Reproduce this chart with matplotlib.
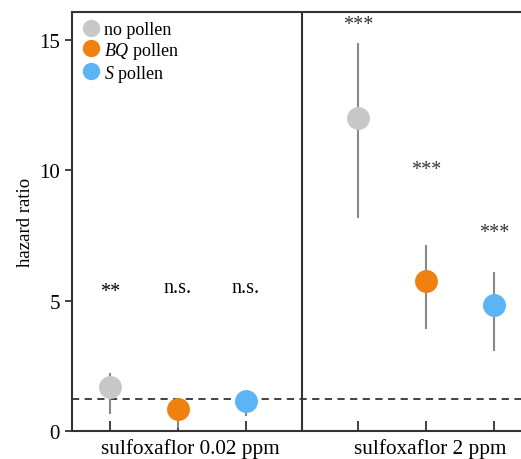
import matplotlib.pyplot as plt

plt.rcParams['font.family'] = ['Liberation Serif', 'DejaVu Serif']
plt.rcParams['mathtext.fontset'] = 'custom'
plt.rcParams['mathtext.rm'] = 'Liberation Serif'
plt.rcParams['mathtext.it'] = 'Liberation Serif:italic'

# hazard ratio estimates with CI, per group (no / BQ / S pollen)
groups = ["no pollen", r"$\it{BQ}$ pollen", r"$\it{S}$ pollen"]
colors = ["#c8c8c8", "#f08010", "#5ab4f5"]
low_hr = [1.68, 0.86, 1.14]
low_lo = [0.70, 0.15, 0.60]
low_hi = [2.20, 1.15, 1.30]
high_hr = [12.0, 5.75, 4.82]
high_lo = [8.2, 3.95, 3.1]
high_hi = [14.85, 7.08, 6.05]
low_sig = ["**", "n.s.", "n.s."]
low_sig_y = [5.35, 5.5, 5.5]
high_sig = ["***", "***", "***"]
high_sig_y = [15.6, 10.05, 7.6]
x_low = [1, 2, 3]
x_high = [4.65, 5.65, 6.65]
treatments = ["sulfoxaflor 0.02 ppm", "sulfoxaflor 2 ppm"]
ref_line = 1.22

fig = plt.figure(figsize=(5.21, 4.6), dpi=100)
ax = fig.add_axes([0.138, 0.061, 0.862, 0.911])

for i in range(3):
    for x, hr, lo, hi in [(x_low[i], low_hr[i], low_lo[i], low_hi[i]),
                          (x_high[i], high_hr[i], high_lo[i], high_hi[i])]:
        ax.plot([x, x], [lo, hi], color="#8a8a8a", lw=1.5, zorder=2)
        ax.plot(x, hr, "o", color=colors[i], ms=16.5, mec="none", zorder=3)
    ax.text(x_low[i], low_sig_y[i], low_sig[i], ha="center", va="center", fontsize=14.5)
    ax.text(x_high[i], high_sig_y[i], high_sig[i], ha="center", va="center",
            fontsize=14.5, color="#333333")

for i in range(3):
    ax.plot([], [], "o", color=colors[i], ms=12.5, mec="none", label=groups[i])
ax.legend(loc="upper left", frameon=False, fontsize=13, handletextpad=0.2,
          borderaxespad=0.2, labelspacing=0.1, handlelength=1.1,
          borderpad=0.3)

ax.axhline(ref_line, color="#333333", ls=(0, (4, 3)), lw=1.3, zorder=1)
ax.axvline((x_low[2] + x_high[0]) / 2, color="#333333", lw=1.5)

ax.set_xlim(0.44, 7.05)
ax.set_ylim(0, 16.08)
ax.set_yticks([0, 5, 10, 15])
ax.set_xticks(x_low + x_high)
ax.set_xticklabels([])
ax.tick_params(axis="both", colors="#333333", labelcolor="black", labelsize=15,
               width=1.3, length=5)
ax.tick_params(axis="x", direction="in", length=7)
for s in ax.spines.values():
    s.set_color("#333333")
    s.set_linewidth(1.5)
ax.spines["right"].set_visible(False)
ax.set_ylabel("hazard ratio", fontsize=13.5)

tr = ax.get_xaxis_transform()
ax.text(x_low[1] + 0.18, -0.052, treatments[0], ha="center", va="baseline",
        fontsize=15.3, transform=tr)
ax.text(x_high[1] + 0.07, -0.052, treatments[1], ha="center", va="baseline",
        fontsize=15.3, transform=tr)

fig.savefig("out.png", dpi=100)
